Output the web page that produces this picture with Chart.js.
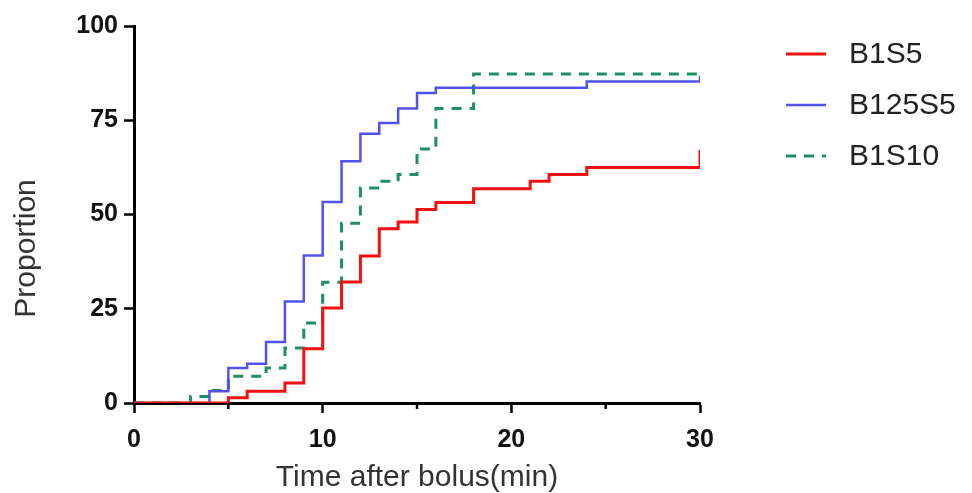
<!DOCTYPE html>
<html>
<head>
<meta charset="utf-8">
<script src="https://cdn.jsdelivr.net/npm/chart.js@4/dist/chart.umd.min.js"></script>
<style>
  html, body { margin: 0; padding: 0; background: #fff; }
  #wrap { width: 972px; height: 493px; position: relative; }
</style>
</head>
<body>
<div id="wrap"><canvas id="c" width="972" height="493"></canvas></div>
<script>
// ---- Data ----
const seriesNames = ['B1S5', 'B125S5', 'B1S10'];

const timesB1S5  = [0, 5, 6, 8, 9, 10, 11, 12, 13, 14, 15, 16, 18, 21, 22, 24, 30];
const valuesB1S5 = [0, 1.4, 3.1, 5.3, 14.4, 25.2, 32.1, 39, 46.2, 48, 51.3, 53.2, 56.8, 58.8, 60.6, 62.5, 67.2];

const timesB125S5  = [0, 4, 5, 6, 7, 8, 9, 10, 11, 12, 13, 14, 15, 16, 24, 30];
const valuesB125S5 = [0, 3.1, 9.3, 10.4, 16.2, 26.9, 39.1, 53.3, 64.1, 71.4, 74.3, 78.1, 82.2, 83.6, 85.3, 86.8];

const timesB1S10  = [0, 3, 4, 5, 7, 8, 9, 10, 11, 12, 13, 14, 15, 16, 18, 30];
const valuesB1S10 = [0, 1.75, 3.3, 7.1, 9.3, 14.6, 21.2, 32, 47.7, 57, 58.8, 60.6, 67.4, 78.1, 87.3, 87.3];

const xTicks = [0, 10, 20, 30];
const xMinorTicks = [5, 15, 25];
const yTicks = [0, 25, 50, 75, 100];

const xTitle = 'Time after bolus(min)';
const yTitle = 'Proportion';

const FONT = "'Liberation Sans', Arial, sans-serif";

function toPoints(ts, vs) { return ts.map((t, i) => ({ x: t, y: vs[i] })); }

const styles = [
  { color: '#f41010', width: 3, dash: [] },
  { color: '#5252ee', width: 2.5, dash: [] },
  { color: '#1e8f62', width: 3, dash: [10, 8] }
];
const seriesData = [
  toPoints(timesB1S5, valuesB1S5),
  toPoints(timesB125S5, valuesB125S5),
  toPoints(timesB1S10, valuesB1S10)
];

const datasets = seriesNames.map((name, i) => ({
  label: name,
  data: seriesData[i],
  borderColor: styles[i].color,
  backgroundColor: styles[i].color,
  borderWidth: styles[i].width,
  borderDash: styles[i].dash,
  stepped: 'before',
  pointRadius: 0,
  fill: false,
  tension: 0
}));

// Minor ticks on the x axis
const minorTicksPlugin = {
  id: 'minorTicks',
  afterDatasetsDraw(chart) {
    const ctx = chart.ctx;
    const xs = chart.scales.x;
    const bottom = chart.chartArea.bottom;
    ctx.save();
    ctx.strokeStyle = '#000';
    ctx.lineWidth = 2.5;
    xMinorTicks.forEach(v => {
      const px = xs.getPixelForValue(v);
      ctx.beginPath();
      ctx.moveTo(px, bottom);
      ctx.lineTo(px, bottom + 6);
      ctx.stroke();
    });
    ctx.restore();
  }
};

// Y axis title, placed a little below the axis centre as in the reference
const yTitlePlugin = {
  id: 'yTitle',
  afterDraw(chart) {
    const ctx = chart.ctx;
    const ys = chart.scales.y;
    const cy = ys.getPixelForValue(41);
    ctx.save();
    ctx.translate(27, cy);
    ctx.rotate(-Math.PI / 2);
    ctx.font = '30px ' + FONT;
    ctx.fillStyle = '#333';
    ctx.textAlign = 'center';
    ctx.textBaseline = 'middle';
    ctx.fillText(yTitle, 0, 0);
    ctx.restore();
  }
};

// Legend on the right
const sideLegendPlugin = {
  id: 'sideLegend',
  afterDraw(chart) {
    const ctx = chart.ctx;
    const x0 = chart.chartArea.right + 86;
    const lineLen = 40;
    const gap = 23;
    const top = 54;
    const step = 51;
    ctx.save();
    chart.data.datasets.forEach((ds, i) => {
      const y = top + i * step;
      ctx.beginPath();
      ctx.strokeStyle = ds.borderColor;
      ctx.lineWidth = ds.borderWidth;
      ctx.setLineDash(ds.borderDash || []);
      ctx.moveTo(x0, y);
      ctx.lineTo(x0 + lineLen, y);
      ctx.stroke();
      ctx.setLineDash([]);
      ctx.fillStyle = '#222';
      ctx.font = '30px ' + FONT;
      ctx.textBaseline = 'middle';
      ctx.textAlign = 'left';
      ctx.fillText(ds.label, x0 + lineLen + gap, y + 1);
    });
    ctx.restore();
  }
};

new Chart(document.getElementById('c'), {
  type: 'line',
  data: { datasets },
  plugins: [minorTicksPlugin, yTitlePlugin, sideLegendPlugin],
  options: {
    responsive: false,
    animation: false,
    layout: { padding: { top: 26, right: 272, left: 0, bottom: 0 } },
    plugins: {
      legend: { display: false },
      tooltip: { enabled: false }
    },
    scales: {
      x: {
        type: 'linear',
        min: 0, max: 30,
        afterFit(scale) { scale.height = 90; },
        afterBuildTicks(scale) { scale.ticks = xTicks.map(v => ({ value: v })); },
        ticks: {
          font: { family: FONT, size: 25, weight: 'bold' },
          color: '#111',
          padding: 12,
          maxRotation: 0
        },
        grid: { drawOnChartArea: false, drawTicks: true, tickLength: 10, tickWidth: 2.5, tickColor: '#000' },
        border: { display: true, color: '#000', width: 3 },
        title: {
          display: true,
          text: xTitle,
          font: { family: FONT, size: 30, lineHeight: 1 },
          color: '#333',
          padding: { top: 0, bottom: 0 }
        }
      },
      y: {
        type: 'linear',
        min: 0, max: 100,
        afterFit(scale) { scale.width = 134; },
        afterBuildTicks(scale) { scale.ticks = yTicks.map(v => ({ value: v })); },
        ticks: {
          font: { family: FONT, size: 25, weight: 'bold' },
          color: '#111',
          padding: 6
        },
        grid: { drawOnChartArea: false, drawTicks: true, tickLength: 10, tickWidth: 2.5, tickColor: '#000' },
        border: { display: true, color: '#000', width: 3 },
        title: { display: false }
      }
    }
  }
});
</script>
</body>
</html>
